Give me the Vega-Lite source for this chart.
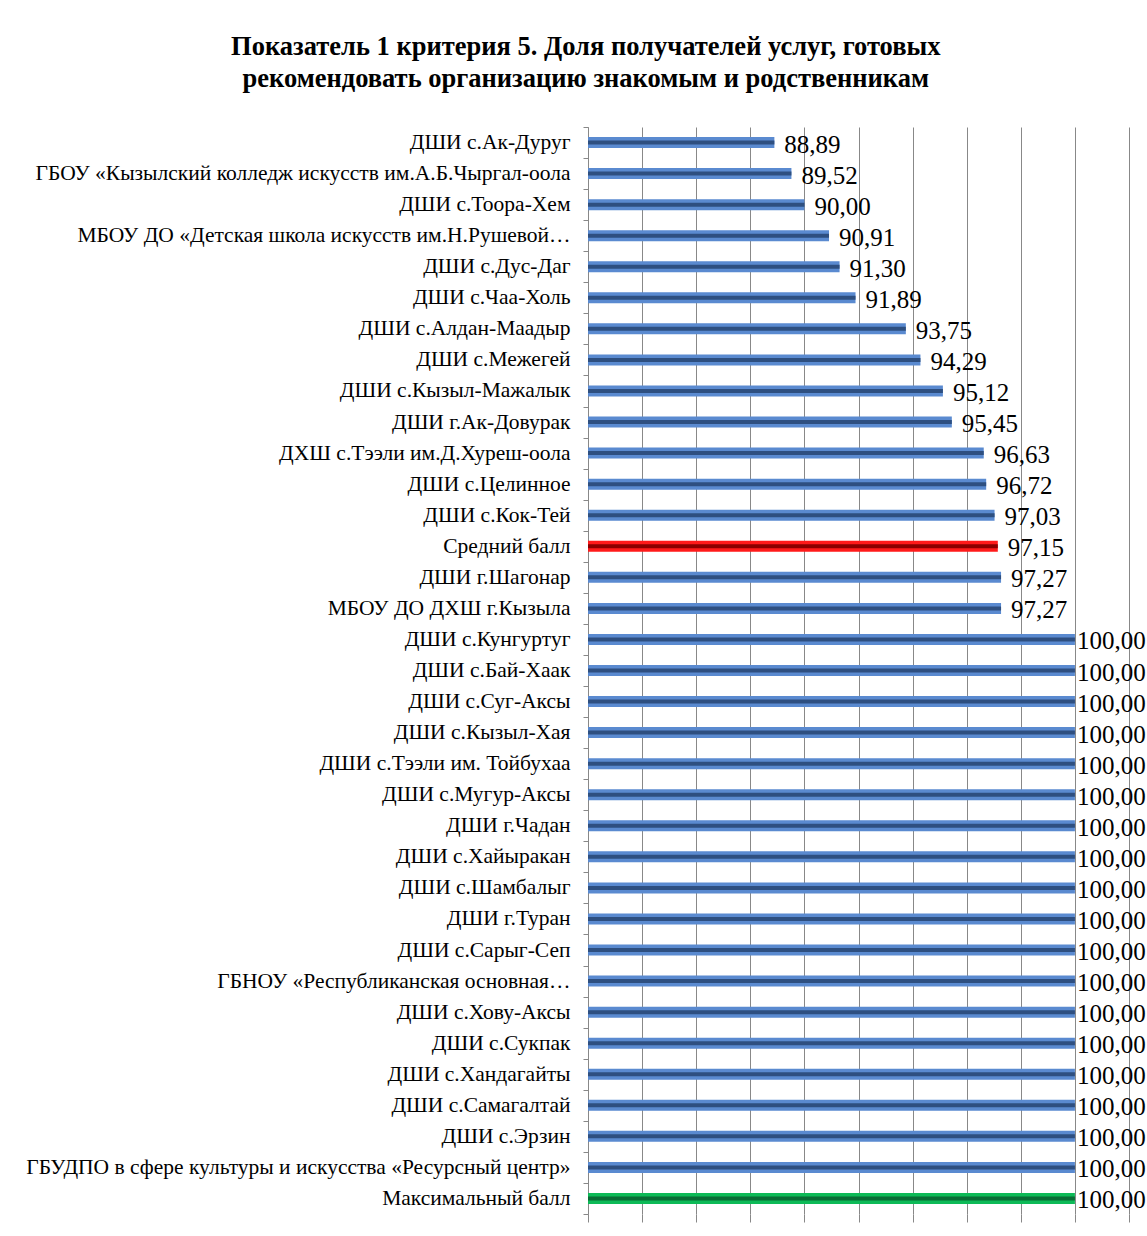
{
  "$schema": "https://vega.github.io/schema/vega-lite/v6.json",
  "padding": {"left": 25, "top": 33, "right": 0, "bottom": 10},
  "background": "white",
  "width": 541,
  "height": 1087,
  "config": {"view": {"stroke": null}, "font": "Liberation Serif"},
  "title": {
    "text": ["Показатель 1 критерия 5. Доля получателей услуг, готовых", "рекомендовать организацию знакомым и родственникам"],
    "font": "Liberation Serif", "fontSize": 26.5, "fontWeight": "bold", "lineHeight": 32,
    "anchor": "middle", "frame": "bounds", "offset": 24, "color": "black"
  },
  "data": {"values": [
    {"name": "ДШИ с.Ак-Дуруг", "value": 88.89, "label": "88,89", "type": "school"},
    {"name": "ГБОУ «Кызылский колледж искусств им.А.Б.Чыргал-оола", "value": 89.52, "label": "89,52", "type": "school"},
    {"name": "ДШИ с.Тоора-Хем", "value": 90.00, "label": "90,00", "type": "school"},
    {"name": "МБОУ ДО «Детская  школа искусств  им.Н.Рушевой…", "value": 90.91, "label": "90,91", "type": "school"},
    {"name": "ДШИ с.Дус-Даг", "value": 91.30, "label": "91,30", "type": "school"},
    {"name": "ДШИ с.Чаа-Холь", "value": 91.89, "label": "91,89", "type": "school"},
    {"name": "ДШИ с.Алдан-Маадыр", "value": 93.75, "label": "93,75", "type": "school"},
    {"name": "ДШИ с.Межегей", "value": 94.29, "label": "94,29", "type": "school"},
    {"name": "ДШИ с.Кызыл-Мажалык", "value": 95.12, "label": "95,12", "type": "school"},
    {"name": "ДШИ г.Ак-Довурак", "value": 95.45, "label": "95,45", "type": "school"},
    {"name": "ДХШ с.Тээли им.Д.Хуреш-оола", "value": 96.63, "label": "96,63", "type": "school"},
    {"name": "ДШИ с.Целинное", "value": 96.72, "label": "96,72", "type": "school"},
    {"name": "ДШИ с.Кок-Тей", "value": 97.03, "label": "97,03", "type": "school"},
    {"name": "Средний балл", "value": 97.15, "label": "97,15", "type": "avg"},
    {"name": "ДШИ г.Шагонар", "value": 97.27, "label": "97,27", "type": "school"},
    {"name": "МБОУ ДО ДХШ  г.Кызыла", "value": 97.27, "label": "97,27", "type": "school"},
    {"name": "ДШИ с.Кунгуртуг", "value": 100, "label": "100,00", "type": "school"},
    {"name": "ДШИ с.Бай-Хаак", "value": 100, "label": "100,00", "type": "school"},
    {"name": "ДШИ с.Суг-Аксы", "value": 100, "label": "100,00", "type": "school"},
    {"name": "ДШИ с.Кызыл-Хая", "value": 100, "label": "100,00", "type": "school"},
    {"name": "ДШИ с.Тээли им. Тойбухаа", "value": 100, "label": "100,00", "type": "school"},
    {"name": "ДШИ с.Мугур-Аксы", "value": 100, "label": "100,00", "type": "school"},
    {"name": "ДШИ г.Чадан", "value": 100, "label": "100,00", "type": "school"},
    {"name": "ДШИ с.Хайыракан", "value": 100, "label": "100,00", "type": "school"},
    {"name": "ДШИ с.Шамбалыг", "value": 100, "label": "100,00", "type": "school"},
    {"name": "ДШИ г.Туран", "value": 100, "label": "100,00", "type": "school"},
    {"name": "ДШИ с.Сарыг-Сеп", "value": 100, "label": "100,00", "type": "school"},
    {"name": "ГБНОУ «Республиканская основная…", "value": 100, "label": "100,00", "type": "school"},
    {"name": "ДШИ с.Хову-Аксы", "value": 100, "label": "100,00", "type": "school"},
    {"name": "ДШИ с.Сукпак", "value": 100, "label": "100,00", "type": "school"},
    {"name": "ДШИ с.Хандагайты", "value": 100, "label": "100,00", "type": "school"},
    {"name": "ДШИ с.Самагалтай", "value": 100, "label": "100,00", "type": "school"},
    {"name": "ДШИ с.Эрзин", "value": 100, "label": "100,00", "type": "school"},
    {"name": "ГБУДПО в сфере культуры и искусства «Ресурсный центр»", "value": 100, "label": "100,00", "type": "school"},
    {"name": "Максимальный балл", "value": 100, "label": "100,00", "type": "max"}
  ]},
  "encoding": {
    "y": {
      "field": "name", "type": "nominal", "sort": null,
      "scale": {"paddingInner": 0, "paddingOuter": 0},
      "axis": {
        "title": null, "labelFont": "Liberation Serif", "labelFontSize": 21.5, "labelColor": "black",
        "labelPadding": 13, "labelLimit": 800, "tickBand": "extent", "tickSize": 5,
        "tickColor": "#888888", "domainColor": "#888888", "grid": false
      }
    }
  },
  "layer": [
    {
      "mark": {"type": "bar", "size": 11},
      "encoding": {
        "x": {
          "field": "value", "type": "quantitative",
          "scale": {"domain": [82, 102], "zero": false, "nice": false},
          "axis": {
            "values": [82, 84, 86, 88, 90, 92, 94, 96, 98, 100, 102],
            "labels": false, "domain": false, "ticks": true, "tickSize": 8,
            "tickColor": "#888888", "grid": true, "gridColor": "#888888", "gridOpacity": 1, "title": null
          }
        },
        "x2": {"datum": 82},
        "color": {"field": "type", "type": "nominal", "legend": null,
          "scale": {"domain": ["school", "avg", "max"], "range": ["#5A8AD0", "#FF1A1A", "#0DBA57"]}}
      }
    },
    {
      "mark": {"type": "bar", "size": 4},
      "encoding": {
        "x": {"field": "value", "type": "quantitative"},
        "x2": {"datum": 82},
        "color": {"field": "type", "type": "nominal", "legend": null,
          "scale": {"domain": ["school", "avg", "max"], "range": ["#2E4F80", "#8A0000", "#0A6B35"]}}
      }
    },
    {
      "transform": [{"filter": "datum.value < 100"}],
      "mark": {"type": "text", "align": "left", "baseline": "middle", "dx": 10, "dy": 2, "fontSize": 25, "font": "Liberation Serif", "color": "black"},
      "encoding": {
        "x": {"field": "value", "type": "quantitative"},
        "text": {"field": "label"},
        "fontWeight": {"condition": {"test": "datum.type === 'avg'", "value": "bold"}, "value": "normal"}
      }
    },
    {
      "transform": [{"filter": "datum.value >= 100"}],
      "mark": {"type": "text", "align": "left", "baseline": "middle", "dx": 2, "dy": 2, "fontSize": 25, "font": "Liberation Serif", "color": "black"},
      "encoding": {
        "x": {"field": "value", "type": "quantitative"},
        "text": {"field": "label"}
      }
    }
  ],
  "resolve": {"scale": {"color": "independent"}}
}
